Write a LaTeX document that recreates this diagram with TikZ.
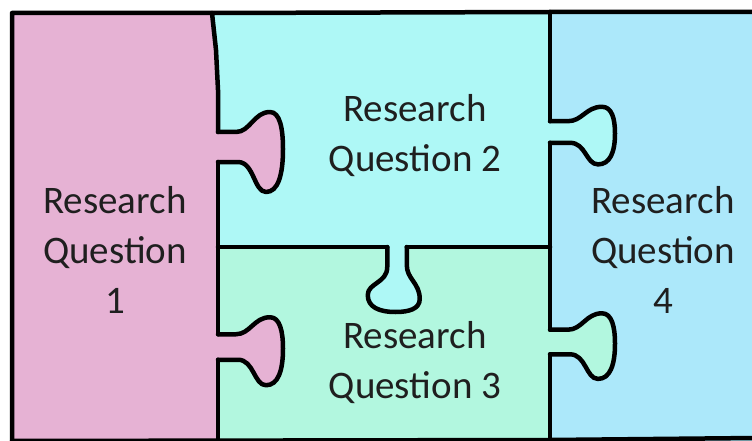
\documentclass[tikz,border=0pt]{standalone}
\usepackage{fontspec}
\setmainfont{Carlito}
\definecolor{rq1}{HTML}{E6B2D4}
\definecolor{rq2}{HTML}{AEF8F6}
\definecolor{rq3}{HTML}{B2F7DF}
\definecolor{rq4}{HTML}{ACE8FA}
\tikzset{
  edge/.style={line width=4.5pt,line cap=round,line join=round},
  qtext/.style={align=center,text=black!88,font=\fontsize{39}{50}\selectfont}
}
\def\knobpath{(0,-15) -- (18,-15) .. controls (32,-15) and (36,-35) .. (52,-35)
  .. controls (62,-35) and (65,-18) .. (65,2) .. controls (65,28) and (60,45) .. (48,45)
  .. controls (36,45) and (36,15) .. (20,15) -- (0,15)}
\newcommand\knob[5]{%
  \begin{scope}[shift={#1},rotate=#2,yscale=#3]
    \fill[#4] (-3,-15) -- \knobpath -- (-3,15) -- cycle;
    \draw[edge] \knobpath;
    \coordinate (#5-a) at (0,-15);
    \coordinate (#5-b) at (0,15);
  \end{scope}}

\begin{document}
\begin{tikzpicture}[x=1pt,y=-1pt]
  \useasboundingbox (0,0) rectangle (752,441);
  \fill[white] (0,0) rectangle (752,441);
  \fill[rq1] (12,13) -- (212,13) -- (218,80) -- (218,445) -- (12,445) -- cycle;
  \fill[rq2] (212,13) -- (550,12) -- (550,247) -- (218,247) -- (218,80) -- cycle;
  \fill[rq3] (218,247) rectangle (550,445);
  \fill[rq4] (550,12) rectangle (760,445);
  \knob{(218,147)}{0}{1}{rq1}{k12}
  \knob{(218,347)}{0}{0.85}{rq1}{k13}
  \knob{(550,132)}{0}{0.72}{rq2}{k24}
  \knob{(550,342)}{0}{0.82}{rq3}{k34}
  \knob{(397,247)}{-90}{0.65}{rq2}{k23}
  \coordinate (tl) at (12,13);
  \coordinate (tm) at (212,13);
  \coordinate (tr) at (550,12);
  \draw[edge] (tm) -- (216,50) -- (218,90) -- (k12-a);
  \draw[edge] (k12-b) -- (k13-a);
  \draw[edge] (k13-b) -- (218,441);
  \draw[edge] (218,247) -- (k23-b);
  \draw[edge] (k23-a) -- (550,247);
  \draw[edge] (tr) -- (k24-a);
  \draw[edge] (k24-b) -- (k34-a);
  \draw[edge] (k34-b) -- (550,441);
  \draw[edge] (12,444) -- (tl) -- (tm) -- (tr) -- (756,12);
  \draw[edge] (12,441) -- (550,440) -- (756,438);
  \node[qtext] (q1) at (115,250) {Research\\Question\\1};
  \node[qtext] (q2) at (415,136) {Research\\Question 2};
  \node[qtext] (q3) at (415,363) {Research\\Question 3};
  \node[qtext] (q4) at (663,250) {Research\\Question\\4};
\end{tikzpicture}
\end{document}
